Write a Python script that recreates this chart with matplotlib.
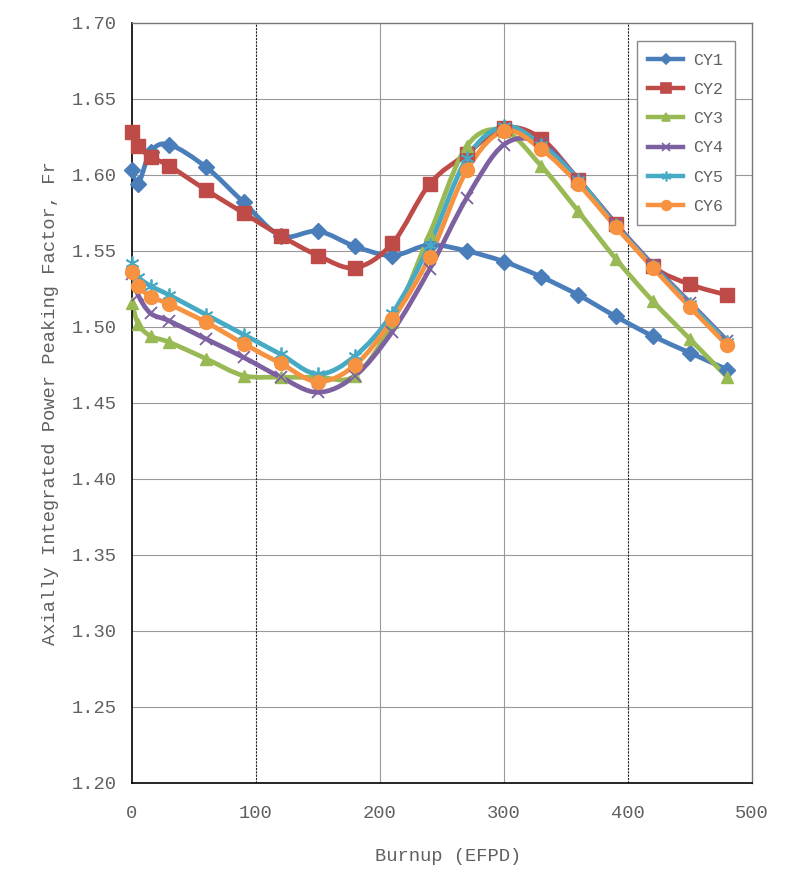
import numpy as np
import matplotlib
matplotlib.use("Agg")
import matplotlib.pyplot as plt
from matplotlib.path import Path
from matplotlib.patches import PathPatch

plt.rcParams['font.family'] = ['Liberation Mono', 'DejaVu Sans Mono']

# burnup points (EFPD)
burnup = [0, 5, 15, 30, 60, 90, 120, 150, 180, 210, 240, 270, 300, 330, 360, 390, 420, 450, 480]

cy1 = [1.603, 1.594, 1.615, 1.620, 1.605, 1.582, 1.560, 1.563, 1.553, 1.547, 1.554, 1.550, 1.543,
       1.533, 1.521, 1.507, 1.494, 1.483, 1.472]
cy2 = [1.628, 1.619, 1.612, 1.606, 1.590, 1.575, 1.560, 1.547, 1.539, 1.555, 1.594, 1.614, 1.631,
       1.624, 1.597, 1.568, 1.540, 1.528, 1.521]
cy3 = [1.516, 1.502, 1.494, 1.490, 1.479, 1.468, 1.467, 1.467, 1.468, 1.503, 1.561, 1.619, 1.629,
       1.606, 1.576, 1.545, 1.517, 1.492, 1.467]
cy4 = [1.535, 1.521, 1.509, 1.504, 1.492, 1.480, 1.467, 1.457, 1.468, 1.497, 1.538, 1.585, 1.620,
       1.621, 1.597, 1.568, 1.541, 1.516, 1.491]
cy5 = [1.542, 1.533, 1.527, 1.521, 1.508, 1.495, 1.482, 1.469, 1.481, 1.509, 1.554, 1.611, 1.632,
       1.620, 1.597, 1.567, 1.540, 1.515, 1.490]
cy6 = [1.536, 1.527, 1.520, 1.515, 1.503, 1.489, 1.476, 1.464, 1.475, 1.505, 1.546, 1.603, 1.629,
       1.617, 1.594, 1.566, 1.539, 1.513, 1.488]

names = ['CY1', 'CY2', 'CY3', 'CY4', 'CY5', 'CY6']
series = [cy1, cy2, cy3, cy4, cy5, cy6]
colors = ['#4A7EBB', '#BE4B48', '#98B954', '#7D60A0', '#46AAC5', '#F69240']
markers = ['D', 's', '^', 'x', (6, 2, 0), 'o']
msizes = [8, 10, 9, 9, 10, 10]

txt = '#606060'


def smooth_path(x, y):
    # excel style smoothed line: bezier through the points
    pts = np.column_stack([x, y]).astype(float)
    n = len(pts)
    verts = [pts[0]]
    codes = [Path.MOVETO]
    for i in range(n - 1):
        p0 = pts[i - 1] if i > 0 else pts[i]
        p1 = pts[i]
        p2 = pts[i + 1]
        p3 = pts[i + 2] if i + 2 < n else pts[i + 1]
        c1 = p1 + (p2 - p0) / 6.0
        c2 = p2 - (p3 - p1) / 6.0
        verts += [c1, c2, p2]
        codes += [Path.CURVE4] * 3
    return Path(verts, codes)


fig = plt.figure(figsize=(7.96, 8.84), dpi=100)
ax = fig.add_axes([0.1658, 0.1143, 0.7789, 0.8597])

ax.set_xlim(0, 500)
ax.set_ylim(1.20, 1.70)

# grid
for v in np.arange(1.25, 1.70, 0.05):
    ax.axhline(v, color='#999999', lw=0.8, zorder=0)
for v in [200, 300]:
    ax.axvline(v, color='#999999', lw=0.8, zorder=0)
for v in [100, 400]:
    ax.axvline(v, color='#222222', lw=0.8, ls=(0, (2, 1)), zorder=0)

handles = []
for name, ys, c, m, ms in zip(names, series, colors, markers, msizes):
    patch = PathPatch(smooth_path(burnup, ys), facecolor='none', edgecolor=c, lw=3.4,
                      transform=ax.transData, zorder=2, capstyle='round', joinstyle='round')
    ax.add_patch(patch)
    if m in ('x', (6, 2, 0)):
        ax.plot(burnup, ys, ls='none', marker=m, ms=ms, mew=1.3, color=c, zorder=3, clip_on=False)
    else:
        ax.plot(burnup, ys, ls='none', marker=m, ms=ms, mec=c, mfc=c, zorder=3, clip_on=False)
    h, = ax.plot([], [], color=c, lw=3.2, marker=m, ms=ms * 0.7, mew=1.2, mfc=c, mec=c)
    handles.append(h)

ax.set_xticks([0, 100, 200, 300, 400, 500])
ax.set_yticks(np.arange(1.20, 1.7001, 0.05))
ax.set_yticklabels(['%.2f' % v for v in np.arange(1.20, 1.7001, 0.05)])
ax.tick_params(axis='both', length=0, labelsize=13.5, colors=txt)
ax.tick_params(axis='y', pad=11)
ax.tick_params(axis='x', pad=16)

for s in ['left', 'bottom']:
    ax.spines[s].set_color('black')
    ax.spines[s].set_linewidth(1.2)
for s in ['top', 'right']:
    ax.spines[s].set_color('#777777')
    ax.spines[s].set_linewidth(1.0)

ax.set_xlabel('Burnup (EFPD)', fontsize=13.5, color=txt)
ax.set_ylabel('Axially Integrated Power Peaking Factor, Fr', fontsize=13.5, color=txt)
ax.xaxis.set_label_coords(0.51, -0.086)
ax.yaxis.set_label_coords(-0.117, 0.5)

leg = ax.legend(handles, names, loc='upper right', bbox_to_anchor=(0.9726, 0.976),
                borderaxespad=0, fontsize=12, handlelength=2.1, labelspacing=0.85,
                fancybox=False, framealpha=1, edgecolor='#888888', borderpad=0.7,
                handletextpad=0.6)
for t in leg.get_texts():
    t.set_color(txt)

fig.savefig('out.png', dpi=100)
